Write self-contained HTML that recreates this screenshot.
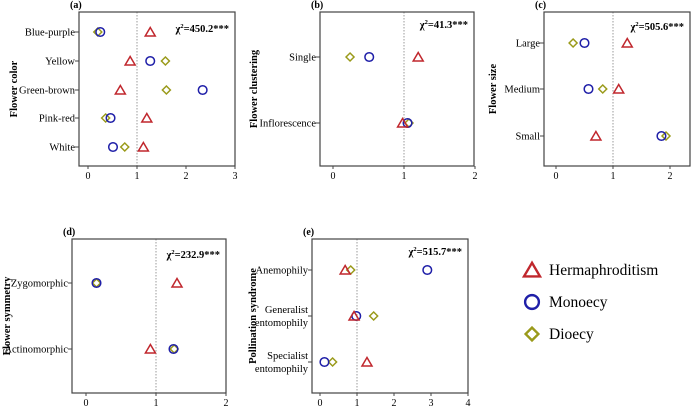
<!DOCTYPE html>
<html><head><meta charset="utf-8"><style>
body{margin:0;background:#fff;}
svg{display:block;font-family:"Liberation Serif",serif;}
text{font-family:"Liberation Serif",serif;}
</style></head><body>
<svg id="c" width="700" height="407"></svg>
<script>
const panelLetters=["(a)","(b)","(c)","(d)","(e)"];
const panelTitles=["Flower color","Flower clustering","Flower size","Flower symmetry","Pollination syndrome"];
const chiLabels=["450.2","41.3","505.6","232.9","515.7"];
const catsA=["Blue-purple","Yellow","Green-brown","Pink-red","White"];
const hermA=[1.27,0.86,0.66,1.2,1.13];
const monoA=[0.25,1.27,2.34,0.46,0.51];
const dioA=[0.2,1.58,1.6,0.36,0.75];
const catsB=["Single","Inflorescence"];
const hermB=[1.2,0.98];
const monoB=[0.51,1.05];
const dioB=[0.24,1.07];
const catsC=["Large","Medium","Small"];
const hermC=[1.25,1.1,0.7];
const monoC=[0.5,0.57,1.85];
const dioC=[0.3,0.82,1.93];
const catsD=["Zygomorphic","Actinomorphic"];
const hermD=[1.3,0.92];
const monoD=[0.15,1.25];
const dioD=[0.15,1.26];
const catsE=[["Anemophily"],["Generalist","entomophily"],["Specialist","entomophily"]];
const hermE=[0.68,0.92,1.27];
const monoE=[2.9,0.98,0.12];
const dioE=[0.83,1.45,0.34];
const ticksA=[0,1,2,3],ticksB=[0,1,2],ticksC=[0,1,2],ticksD=[0,1,2],ticksE=[0,1,2,3,4];

const svg=document.getElementById('c');
const NS="http://www.w3.org/2000/svg";
const FF='"Liberation Serif", serif';
function mk(t,a,p){const e=document.createElementNS(NS,t);for(const k in a)e.setAttribute(k,a[k]);if(t==='text')e.setAttribute('font-family',FF);(p||svg).appendChild(e);return e;}
const RED="#c0272d",BLUE="#1f1fa8",OLIVE="#9a9a1a";
function tri(g,x,y){return mk('polygon',{points:`${x},${y-4.5} ${x-5},${y+4} ${x+5},${y+4}`,fill:'none',stroke:RED,'stroke-width':1.5},g);}
function circ(g,x,y){return mk('circle',{cx:x,cy:y,r:4.3,fill:'none',stroke:BLUE,'stroke-width':1.5},g);}
function dia(g,x,y){return mk('polygon',{points:`${x},${y-4} ${x+4},${y} ${x},${y+4} ${x-4},${y}`,fill:'none',stroke:OLIVE,'stroke-width':1.5},g);}

const panels=[
 {L:79,R:235,T:12,B:166,x0:88,x1:137,cats:catsA,rows:[32,61,90,118,147],h:hermA,m:monoA,d:dioA,ticks:ticksA,tx:13,cy:32},
 {L:320,R:474,T:12,B:166,x0:333,x1:404,cats:catsB,rows:[57,123],h:hermB,m:monoB,d:dioB,ticks:ticksB,tx:253,cy:28},
 {L:544,R:690,T:12,B:166,x0:556,x1:613,cats:catsC,rows:[43,89,136],h:hermC,m:monoC,d:dioC,ticks:ticksC,tx:492,cy:30},
 {L:72,R:226,T:239,B:393,x0:86,x1:156,cats:catsD,rows:[283,349],h:hermD,m:monoD,d:dioD,ticks:ticksD,tx:6,cy:258},
 {L:312,R:468,T:239,B:393,x0:320,x1:357,cats:catsE,rows:[270,316,362],h:hermE,m:monoE,d:dioE,ticks:ticksE,tx:252,cy:255}
];
panels.forEach((p,i)=>{
 const g=mk('g',{});
 
 
 const xs=v=>p.x0+(p.x1-p.x0)*v;
 const lt=mk('text',{x:p.L-9,y:p.T-4,'font-size':10,'font-weight':'bold'},g);lt.textContent=panelLetters[i];
 
 const ref=mk('line',{x1:xs(1),x2:xs(1),y1:p.T,y2:p.B,stroke:'#999','stroke-dasharray':'1.5,1.5','stroke-width':1},g);
 
 const box=mk('rect',{x:p.L,y:p.T,width:p.R-p.L,height:p.B-p.T,fill:'none',stroke:'#444','stroke-width':1.2},g);
 
 p.ticks.forEach(t=>{
  mk('line',{x1:xs(t),x2:xs(t),y1:p.B,y2:p.B+3,stroke:'#444'},g);
  const tt=mk('text',{x:xs(t),y:p.B+13,'font-size':10,'text-anchor':'middle'},g);tt.textContent=t;
  
 });
 p.cats.forEach((c,j)=>{
  const y=p.rows[j];
  mk('line',{x1:p.L-4,x2:p.L,y1:y,y2:y,stroke:'#444'},g);
  const lines=Array.isArray(c)?c:[c];
  lines.forEach((s,k)=>{
   const ty=y+3.5+(k-(lines.length-1)/2)*13;
   const tt=mk('text',{x:p.L-4,y:ty,'font-size':10.5,'text-anchor':'end'},g);tt.textContent=s;
   
  });
  dia(g,xs(p.d[j]),y);
  circ(g,xs(p.m[j]),y);
  tri(g,xs(p.h[j]),y);
 });
 const cy=(p.T+p.B)/2;
 const yt=mk('text',{x:0,y:0,'font-size':10.5,'font-weight':'bold','text-anchor':'middle',transform:`translate(${p.tx+4},${cy}) rotate(-90)`},g);
 yt.textContent=panelTitles[i];
 
 const ch=mk('text',{x:p.R-6,y:p.cy,'font-size':10.5,'font-weight':'bold','text-anchor':'end'},g);
 ch.innerHTML='χ<tspan dy="-4" font-size="6.5">2</tspan><tspan dy="4">='+chiLabels[i]+'***</tspan>';
 
});
const leg=mk('g',{});

const legNames=["Hermaphroditism","Monoecy","Dioecy"];
[tri,circ,dia].forEach((f,k)=>{
 const y=270+k*32;
 const s=f(leg,532,y);s.setAttribute('transform',`translate(532,${y}) scale(1.6) translate(-532,${-y})`);
 const t=mk('text',{x:549,y:y+5,'font-size':15.5},leg);t.textContent=legNames[k];
 
});
</script>
</body></html>
